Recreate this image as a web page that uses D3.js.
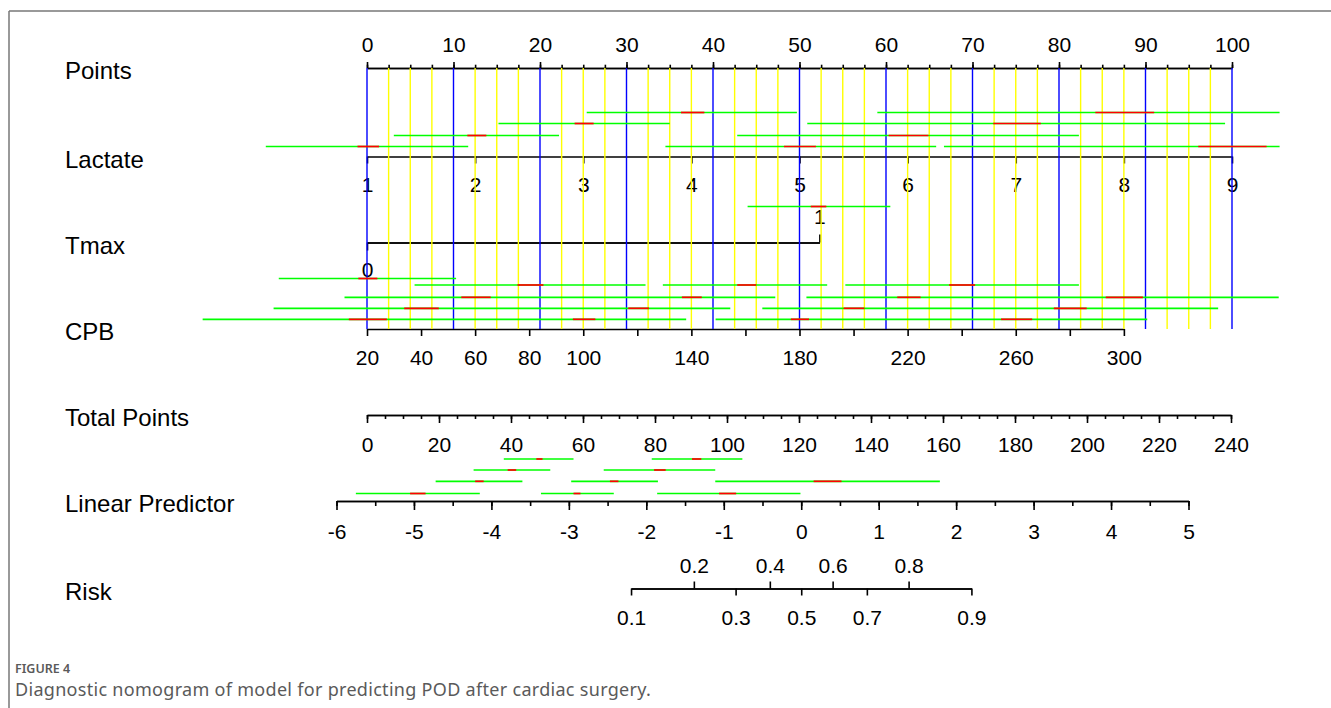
<!DOCTYPE html>
<html>
<head>
<meta charset="utf-8">
<script src="https://cdn.jsdelivr.net/npm/d3@7"></script>
<style>
body { margin: 0; background: #fff; }
svg { display: block; }
.axis text { font-family: "Liberation Sans", Arial, sans-serif; font-size: 21px; fill: #000; }
.axis path, .axis line { stroke: #000; stroke-width: 1.6; }
.lab { font-family: "Liberation Sans", Arial, sans-serif; font-size: 24px; fill: #000; }
</style>
</head>
<body>
<svg width="1331" height="708"></svg>
<script>
// tick values of each scale
var pointsTicks = [0, 10, 20, 30, 40, 50, 60, 70, 80, 90, 100];
var pointsMinor = d3.range(0, 100.01, 2.5);
var lactateTicks = [1, 2, 3, 4, 5, 6, 7, 8, 9];
var tmaxLevels = [0, 1];
var tmaxPoints = [0, 52.3];
var cpbTicks = [20, 40, 60, 80, 100, 120, 140, 160, 180, 200, 220, 240, 260, 280, 300];
var cpbLabels = [20, 40, 60, 80, 100, 140, 180, 220, 260, 300];
var totalTicks = [0, 20, 40, 60, 80, 100, 120, 140, 160, 180, 200, 220, 240];
var totalMinor = d3.range(0, 240.01, 5);
var lpTicks = [-6, -5, -4, -3, -2, -1, 0, 1, 2, 3, 4, 5];
var lpMinor = d3.range(-6, 5.01, 0.5);
var riskTop = [0.2, 0.4, 0.6, 0.8];
var riskBottom = [0.1, 0.3, 0.5, 0.7, 0.9];

// interval bars (points scale): row, lo, hi, red parts
var lactateBars = [
    {row: 0, lo: 25.4, hi: 49.7, red: [[36.3, 39.0]]},
    {row: 0, lo: 59.0, hi: 105.5, red: [[84.2, 91.0]]},
    {row: 1, lo: 15.2, hi: 35.0, red: [[24.0, 26.2]]},
    {row: 1, lo: 50.9, hi: 99.2, red: [[72.4, 77.9]]},
    {row: 2, lo: 3.1, hi: 22.2, red: [[11.6, 13.8]]},
    {row: 2, lo: 42.8, hi: 82.3, red: [[60.3, 64.9]]},
    {row: 3, lo: -11.7, hi: 11.7, red: [[-1.1, 1.4]]},
    {row: 3, lo: 34.5, hi: 65.8, red: [[48.2, 51.9]]},
    {row: 3, lo: 66.7, hi: 105.5, red: [[96.1, 104.0]]}
];
var tmaxBars = [
    {row: 0, lo: 44.0, hi: 60.5, red: [[51.3, 53.1]]}
];
var cpbBars = [
    {row: 0, lo: -10.2, hi: 10.3, red: [[-1.0, 1.2]]},
    {row: 1, lo: 5.5, hi: 32.2, red: [[17.4, 20.4]]},
    {row: 1, lo: 34.2, hi: 53.2, red: [[42.8, 45.0]]},
    {row: 1, lo: 55.3, hi: 82.3, red: [[67.3, 70.3]]},
    {row: 2, lo: -2.6, hi: 47.2, red: [[10.9, 14.3], [36.4, 38.7]]},
    {row: 2, lo: 50.8, hi: 105.4, red: [[61.3, 64.0], [85.4, 89.7]]},
    {row: 3, lo: -10.8, hi: 42.0, red: [[4.3, 8.3], [30.2, 32.6]]},
    {row: 3, lo: 45.7, hi: 98.4, red: [[55.1, 57.5], [79.4, 83.2]]},
    {row: 4, lo: -19.0, hi: 36.9, red: [[-2.1, 2.3], [23.8, 26.4]]},
    {row: 4, lo: 40.3, hi: 90.2, red: [[49.0, 51.1], [73.3, 76.9]]}
];
// interval bars (linear predictor scale)
var lpBars = [
    {row: 0, lo: -3.84, hi: -2.94, red: [[-3.42, -3.34]]},
    {row: 0, lo: -1.93, hi: -0.76, red: [[-1.41, -1.29]]},
    {row: 1, lo: -4.23, hi: -3.24, red: [[-3.79, -3.68]]},
    {row: 1, lo: -2.55, hi: -1.11, red: [[-1.90, -1.75]]},
    {row: 2, lo: -4.72, hi: -3.60, red: [[-4.21, -4.10]]},
    {row: 2, lo: -2.97, hi: -1.85, red: [[-2.47, -2.36]]},
    {row: 2, lo: -1.11, hi: 1.79, red: [[0.16, 0.52]]},
    {row: 3, lo: -5.75, hi: -4.15, red: [[-5.05, -4.85]]},
    {row: 3, lo: -3.36, hi: -2.42, red: [[-2.94, -2.85]]},
    {row: 3, lo: -1.86, hi: -0.01, red: [[-1.06, -0.84]]}
];

var svg = d3.select("svg");

// frame of the figure
svg.append("line").attr("x1", 9).attr("x2", 1331).attr("y1", 11).attr("y2", 11)
    .attr("stroke", "#999").attr("stroke-width", 1.8);
svg.append("line").attr("x1", 9).attr("x2", 9).attr("y1", 11).attr("y2", 708)
    .attr("stroke", "#777").attr("stroke-width", 1.5);

// row positions
var yPts = 68, yLact = 156.5, yTmax = 242.5, yCpb = 329,
    yTotal = 415, yLP = 501, yRisk = 588.5;

var logit = function (p) { return Math.log(p / (1 - p)); };
var xPts = d3.scaleLinear().domain([0, 100]).range([367, 1232]);
var xLact = d3.scaleLinear().domain([1, 9]).range([xPts(0), xPts(100)]);
var xTmax = d3.scaleLinear().domain(tmaxLevels).range(tmaxPoints.map(xPts));
var xCpb = d3.scaleLinear().domain([20, 300]).range([xPts(0), xPts(87.5)]);
var xTotal = d3.scaleLinear().domain([0, 240]).range([367, 1231]);
var xLP = d3.scaleLinear().domain([-6, 5]).range([336.5, 1188.5]);
var xRisk = d3.scaleLinear().domain([logit(0.1), logit(0.9)])
    .range([xLP(logit(0.1)), xLP(logit(0.9))]);

function axis(gen, scale, y, values, size, pad, fmt) {
    var a = gen(scale).tickValues(values).tickSize(size).tickSizeOuter(0).tickPadding(pad)
        .tickFormat(fmt || function (d) { return String(d); });
    return svg.append("g").attr("class", "axis")
        .attr("transform", "translate(0," + y + ")").call(a);
}
var none = function () { return ""; };

// Points
axis(d3.axisTop, xPts, yPts, pointsTicks, 6, 10);
axis(d3.axisTop, xPts, yPts, pointsMinor, 3.3, 10, none);
// Lactate
axis(d3.axisBottom, xLact, yLact, lactateTicks, 7, 14);
// Tmax
axis(d3.axisTop, xTmax, yTmax, [1], 8, 10.5);
axis(d3.axisBottom, xTmax, yTmax, [0], 8, 12);
// CPB
axis(d3.axisBottom, xCpb, yCpb, cpbTicks, 7, 14, function (d) {
    return cpbLabels.indexOf(d) >= 0 ? String(d) : "";
});
// Total Points
axis(d3.axisBottom, xTotal, yTotal, totalTicks, 8, 14);
axis(d3.axisBottom, xTotal, yTotal, totalMinor, 4, 14, none);
// Linear Predictor
axis(d3.axisBottom, xLP, yLP, lpTicks, 9, 14);
axis(d3.axisBottom, xLP, yLP, lpMinor, 5, 14, none);
// Risk
var riskFmt = function (d) { return (1 / (1 + Math.exp(-d))).toFixed(1); };
axis(d3.axisTop, xRisk, yRisk, riskTop.map(logit), 7, 9, riskFmt);
axis(d3.axisBottom, xRisk, yRisk, riskBottom.map(logit), 7, 15, riskFmt);

// reference lines through the points scale
var refs = pointsMinor.slice().sort(function (a, b) {
    return (a % 10 === 0) - (b % 10 === 0);
});
svg.append("g").selectAll("line").data(refs).join("line")
    .attr("x1", function (d) { return xPts(d); })
    .attr("x2", function (d) { return xPts(d); })
    .attr("y1", yPts).attr("y2", yCpb)
    .attr("stroke", function (d) { return d % 10 === 0 ? "#0000ff" : "#ffff00"; })
    .attr("stroke-width", 1.4);

// interval bars
function bars(data, scale, rows) {
    var g = svg.append("g").attr("stroke-width", 1.7);
    g.selectAll(".g").data(data).join("line")
        .attr("x1", function (d) { return scale(d.lo); })
        .attr("x2", function (d) { return scale(d.hi); })
        .attr("y1", function (d) { return rows[d.row]; })
        .attr("y2", function (d) { return rows[d.row]; })
        .attr("stroke", "#00ff00");
    var reds = [];
    data.forEach(function (d) {
        d.red.forEach(function (r) { reds.push({row: d.row, lo: r[0], hi: r[1]}); });
    });
    g.selectAll(".r").data(reds).join("line")
        .attr("x1", function (d) { return scale(d.lo); })
        .attr("x2", function (d) { return scale(d.hi); })
        .attr("y1", function (d) { return rows[d.row]; })
        .attr("y2", function (d) { return rows[d.row]; })
        .attr("stroke", "#ff0000");
}
bars(lactateBars, xPts, [112.5, 123.5, 135.5, 146.5]);
bars(tmaxBars, xPts, [206.5]);
bars(cpbBars, xPts, [278.5, 285, 297.3, 308.3, 319.3]);
bars(lpBars, xLP, [459, 470, 481.3, 493.5]);

// row titles
var titles = [["Points", yPts], ["Lactate", yLact], ["Tmax", yTmax], ["CPB", yCpb],
    ["Total Points", yTotal], ["Linear Predictor", yLP], ["Risk", yRisk]];
svg.append("g").selectAll("text").data(titles).join("text")
    .attr("class", "lab")
    .attr("x", 65)
    .attr("y", function (d) { return d[1] + 11; })
    .text(function (d) { return d[0]; });

// caption
svg.append("text").attr("x", 15).attr("y", 673)
    .style("font-family", "'Noto Sans', sans-serif").style("font-size", "12.5px")
    .style("font-weight", 600).style("fill", "#5a5a5a")
    .text("FIGURE 4");
svg.append("text").attr("x", 15).attr("y", 696)
    .style("font-family", "'Noto Sans', sans-serif").style("font-size", "18px")
    .style("letter-spacing", "0.3px")
    .style("fill", "#5a5a5a")
    .text("Diagnostic nomogram of model for predicting POD after cardiac surgery.");
</script>
</body>
</html>
